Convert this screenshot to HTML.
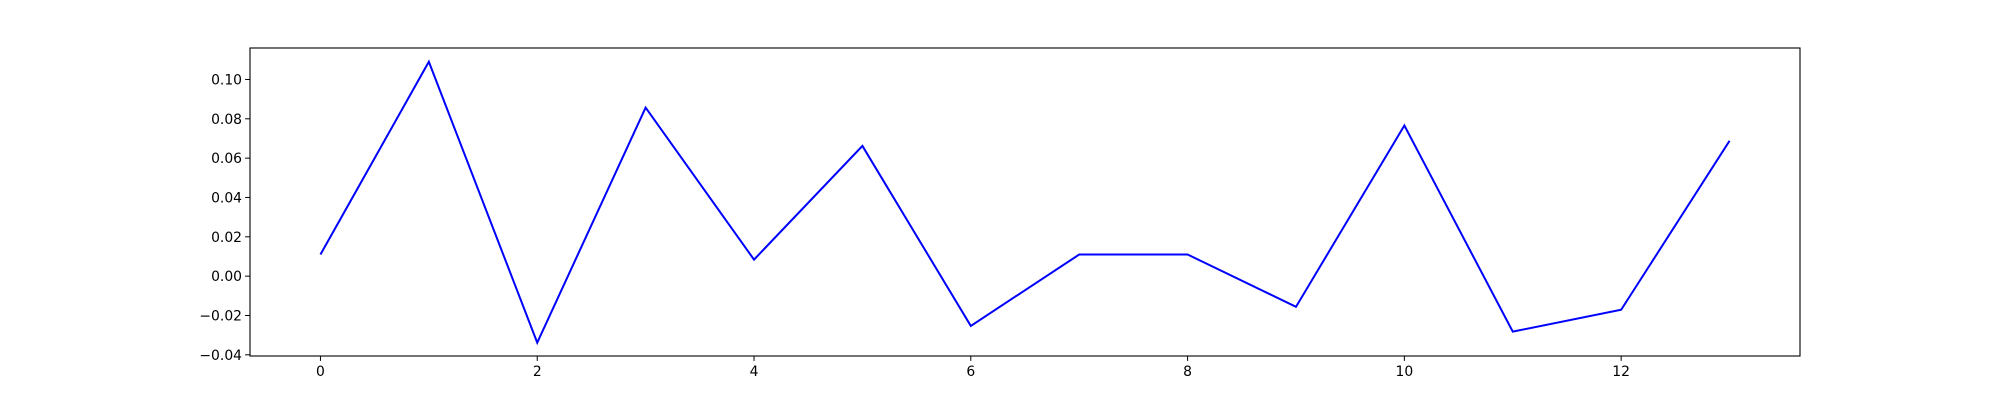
<!DOCTYPE html>
<html><head><meta charset="utf-8"><style>body{margin:0;background:#fff}svg{display:block}text{font-family:"DejaVu Sans","Liberation Sans",sans-serif;font-size:13.9px;fill:#000}</style></head>
<body>
<svg id="chart" width="2000" height="400" xmlns="http://www.w3.org/2000/svg"></svg>
<script>
const xValues = [0,1,2,3,4,5,6,7,8,9,10,11,12,13];
const yValues = [0.011,0.109,-0.0338,0.0857,0.0084,0.0662,-0.0253,0.011,0.011,-0.0156,0.0766,-0.0282,-0.0171,0.0688];
const xTicks = [0,2,4,6,8,10,12];
const yTicks = [-0.04,-0.02,0.00,0.02,0.04,0.06,0.08,0.10];
const yTickLabels = ["\u22120.04","\u22120.02","0.00","0.02","0.04","0.06","0.08","0.10"];

const L=250,R=1800,T=48,B=356;
const xMin=-0.65,xMax=13.65,yMin=-0.0406,yMax=0.1160;
const sx=v=>L+(v-xMin)/(xMax-xMin)*(R-L);
const sy=v=>B-(v-yMin)/(yMax-yMin)*(B-T);
const svg=document.getElementById('chart');
const NS='http://www.w3.org/2000/svg';
function mk(tag,attrs){const e=document.createElementNS(NS,tag);for(const k in attrs)e.setAttribute(k,attrs[k]);svg.appendChild(e);return e;}

const line=mk('polyline',{points:xValues.map((x,i)=>sx(x)+','+sy(yValues[i])).join(' '),fill:'none',stroke:'#0000ff','stroke-width':2,'stroke-linejoin':'miter'});



xTicks.forEach(t=>{
  const tk=mk('line',{x1:sx(t),x2:sx(t),y1:B,y2:B+4.9,stroke:'#000','stroke-width':1});
  
  
  const lb=mk('text',{x:sx(t),y:B+20,'text-anchor':'middle'});
  lb.textContent=t;
  
  
});
yTicks.forEach((t,i)=>{
  const tk=mk('line',{x1:L-4.9,x2:L,y1:sy(t),y2:sy(t),stroke:'#000','stroke-width':1});
  
  
  const lb=mk('text',{x:L-8,y:sy(t)+5,'text-anchor':'end'});
  lb.textContent=yTickLabels[i];
  
  
});
const frame=mk('rect',{x:L,y:T,width:R-L,height:B-T,fill:'none',stroke:'#000','stroke-width':1.1});


</script>
</body></html>
